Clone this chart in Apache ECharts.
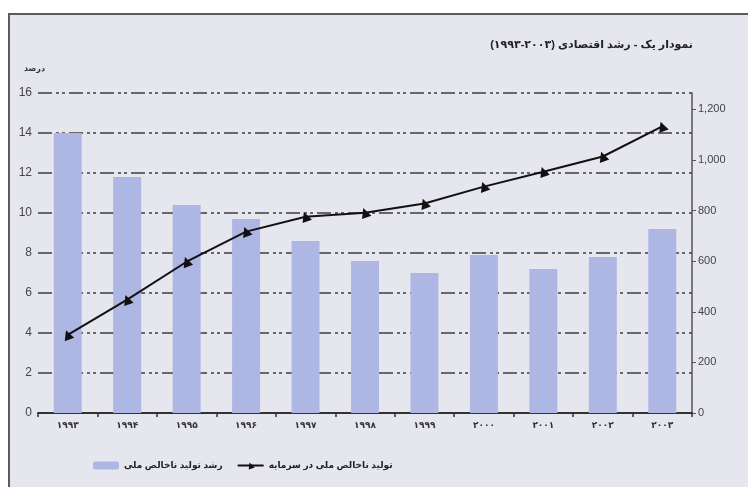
<!DOCTYPE html>
<html>
<head>
<meta charset="utf-8">
<script src="https://cdn.jsdelivr.net/npm/echarts@6/dist/echarts.min.js"></script>
<style>
html,body{margin:0;padding:0;background:#ffffff;}
#c{width:748px;height:487px;}
</style>
</head>
<body>
<div id="c" dir="rtl"></div>
<script>
const years = ['۱۹۹۳','۱۹۹۴','۱۹۹۵','۱۹۹۶','۱۹۹۷','۱۹۹۸','۱۹۹۹','۲۰۰۰','۲۰۰۱','۲۰۰۲','۲۰۰۳'];
const growthBars = [14.0, 11.8, 10.4, 9.7, 8.6, 7.6, 7.0, 7.9, 7.2, 7.8, 9.2];
const gdpLine = [309, 448, 598, 717, 776, 792, 828, 895, 954, 1014, 1133];
const titleText = 'نمودار یک - رشد اقتصادی (۲۰۰۳-۱۹۹۳)';
const unitText = 'درصد';
const barName = 'رشد تولید ناخالص ملی';
const lineName = 'تولید ناخالص ملی در سرمایه';

const FONT = "'Liberation Sans', 'DejaVu Sans', sans-serif";
const chart = echarts.init(document.getElementById('c'));
chart.setOption({
  backgroundColor: '#ffffff',
  animation: false,
  textStyle: {fontFamily: FONT},
  graphic: [
    {type: 'rect', z: -10, silent: true,
     shape: {x: 9, y: 14, width: 745, height: 480},
     style: {fill: '#e5e6ee', stroke: '#5a5a60', lineWidth: 2}},
    {type: 'text', right: 55, top: 39, z: 10,
     style: {text: titleText, font: "bold 11px " + FONT, fill: '#222', align: 'right'}},
    {type: 'text', left: 24, top: 65, z: 10,
     style: {text: unitText, font: "bold 8px " + FONT, fill: '#333'}}
  ],
  grid: {left: 38, right: 56, top: 93, bottom: 74},
  legend: {
    left: 88, top: 456, itemGap: 14, itemWidth: 26, itemHeight: 8,
    textStyle: {fontFamily: FONT, fontSize: 9, fontWeight: 'bold', color: '#222'},
    data: [barName, lineName]
  },
  xAxis: {
    type: 'category', data: years,
    axisLine: {lineStyle: {color: '#333', width: 2}},
    axisTick: {show: true, length: 4, lineStyle: {color: '#333', width: 1.5}},
    axisLabel: {fontFamily: FONT, fontSize: 9, fontWeight: 'bold', color: '#333', margin: 8}
  },
  yAxis: [
    {type: 'value', min: 0, max: 16, interval: 2,
     axisLine: {show: false}, axisTick: {show: false},
     axisLabel: {fontFamily: FONT, fontSize: 12, color: '#444', margin: 6},
     splitLine: {lineStyle: {color: '#3c3c42', width: 1.6, type: [14, 4, 3, 3, 3, 4]}}},
    {type: 'value', min: 0, max: 1265, interval: 200, position: 'right',
     axisLine: {show: true, lineStyle: {color: '#555', width: 1.5}},
     axisTick: {show: true, length: 4, lineStyle: {color: '#555'}},
     axisLabel: {fontFamily: FONT, fontSize: 11, color: '#444', margin: 6, showMaxLabel: false,
       formatter: v => v.toLocaleString('en-US')},
     splitLine: {show: false}}
  ],
  series: [
    {name: barName, type: 'bar', data: growthBars, yAxisIndex: 0, barWidth: '47%',
     itemStyle: {color: '#aeb6e4'}},
    {name: lineName, type: 'line', data: gdpLine, yAxisIndex: 1,
     symbol: 'triangle', symbolSize: 10, symbolRotate: 20,
     lineStyle: {color: '#111', width: 2},
     itemStyle: {color: '#111'}, z: 5}
  ]
});
</script>
</body>
</html>
